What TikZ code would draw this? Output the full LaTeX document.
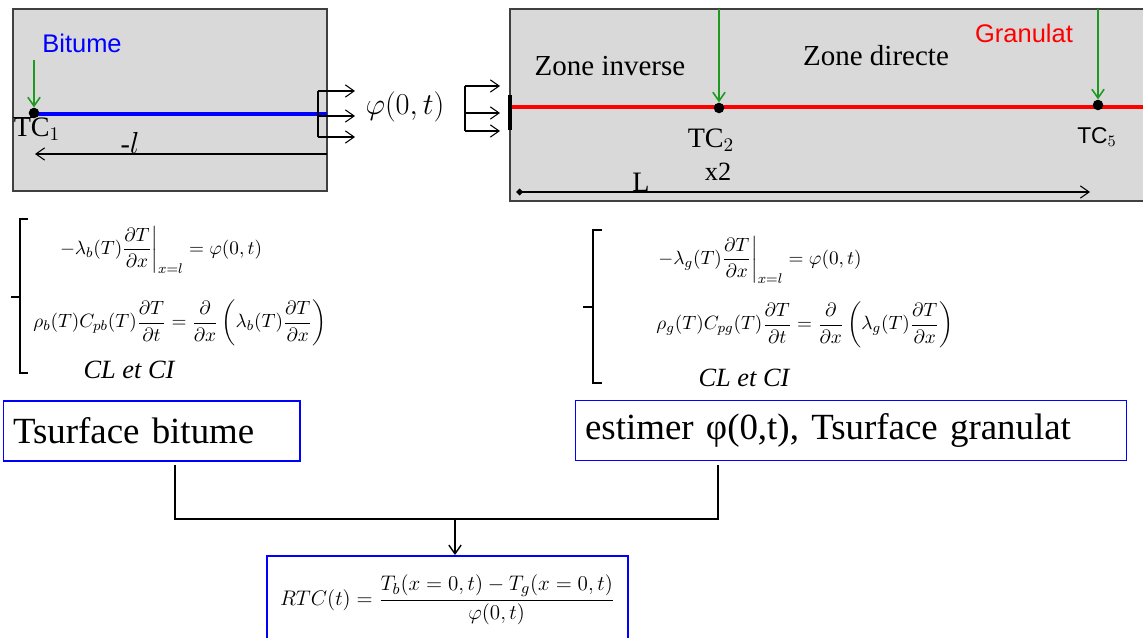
\documentclass[tikz,border=0pt]{standalone}
\usepackage{amsmath}
\usepackage{fontspec}
\setmainfont{Liberation Serif}
\newfontfamily\arial{Liberation Sans}
\usetikzlibrary{positioning,arrows.meta}
\definecolor{fondgris}{HTML}{D9D9D9}
\definecolor{bordgris}{HTML}{404040}
\definecolor{vertsonde}{HTML}{1E9B1E}
\newcommand{\taille}[1]{\fontsize{#1}{#1}\selectfont}
\tikzset{
  fleche/.style={-{Straight Barb[length=5pt,width=7pt]}, line width=0.6pt},
  sonde/.style={vertsonde, line width=0.9pt, -{Straight Barb[length=5pt,width=7pt]}},
  point/.style={circle, fill=black, inner sep=0pt, minimum size=6pt},
  boite/.style={draw=blue, line width=0.6pt, inner xsep=0.2cm, align=left, minimum height=1.2cm, font=\taille{21pt}},
}
\begin{document}
\begin{tikzpicture}[x=0.02cm,y=-0.02cm]
\useasboundingbox (0,0) rectangle (1143,638);
% echantillon bitume
\filldraw[fill=fondgris, draw=bordgris, line width=0.6pt] (13,9) rectangle (327,191);
\draw[blue, line width=1.8pt] (34,114) -- (327,114);
\draw[black, line width=0.5pt] (13,117) -- (34,117);
\node[point] (tc1) at (34,113) {};
\coordinate (s1) at (34,60);
\draw[sonde] (s1) -- (tc1.north);
\node[blue, font=\arial\taille{14.5pt}] (bitume) at (82,43) {Bitume};
\node[font=\taille{16pt}] (ltc1) at (37,129) {TC$_1$};
\coordinate (lfin) at (327,154);
\coordinate (ldeb) at (35,154);
\draw[fleche] (lfin) -- (ldeb);
\node[font=\taille{16pt}] (ll) at (130,143) {-$l$};
% flux
\draw[black, line width=0.6pt] (318,91) -- (318,137);
\draw[fleche] (318,91) -- (355,91);
\draw[fleche] (318,116) -- (355,116);
\draw[fleche] (318,137) -- (355,137);
\node[font=\taille{17pt}] (phi) at (405,107) {$\varphi(0,t)$};
\draw[black, line width=0.6pt] (465,86) -- (465,131);
\draw[fleche] (465,86) -- (500,86);
\draw[fleche] (465,113) -- (500,113);
\draw[fleche] (465,131) -- (500,131);
% echantillon granulat
\filldraw[fill=fondgris, draw=bordgris, line width=0.6pt] (510,9) rectangle (1150,201);
\draw[red, line width=1.8pt] (510,107) -- (1143,107);
\draw[black, line width=2pt] (510,95) -- (510,130);
\node[point] (tc2) at (719,108) {};
\node[point] (tc5) at (1098,105) {};
\coordinate (s2) at (719,9);
\coordinate (s5) at (1098,9);
\draw[sonde] (s2) -- (tc2.north);
\draw[sonde] (s5) -- (tc5.north);
\node[font=\taille{16.5pt}] (zinv) at (610,66) {Zone inverse};
\node[font=\taille{16.5pt}] (zdir) at (876,56) {Zone directe};
\node[red, font=\arial\taille{14.5pt}] (granulat) at (1024,33) {Granulat};
\node[font=\taille{16pt}] (ltc2) at (711,140) {TC$_2$};
\node[font=\arial\taille{13pt}] (ltc5) at (1097,137) {TC$_5$};
\node[font=\taille{15pt}] (lx2) at (718,172) {x2};
\node[font=\taille{16pt}] (lL) at (641,182) {L};
\coordinate (Ldeb) at (516,192);
\coordinate (Lfin) at (1090,192);
\draw[{Diamond[length=4pt,width=4pt]}-{Straight Barb[length=5pt,width=7pt]}, line width=0.6pt] (Ldeb) -- (Lfin);
% systeme bitume
\draw[black, line width=1.2pt] (28,219) -- (20,219) -- (20,373) -- (28,373);
\draw[black, line width=1.2pt] (20,297) -- (11,297);
\node[font=\taille{11pt}] (eqb1) at (161,250) {$\displaystyle -\lambda_b(T)\frac{\partial T}{\partial x}\bigg|_{x=l}=\varphi(0,t)$};
\node[font=\taille{11pt}] (eqb2) at (180,323) {$\displaystyle \rho_b(T)C_{pb}(T)\frac{\partial T}{\partial t}=\frac{\partial}{\partial x}\left(\lambda_b(T)\frac{\partial T}{\partial x}\right)$};
\node[font=\itshape\taille{15pt}] (clb) at (129,370) {CL et CI};
% systeme granulat
\draw[black, line width=1.2pt] (602,230) -- (593,230) -- (593,383) -- (602,383);
\draw[black, line width=1.2pt] (593,307) -- (583,307);
\node[font=\taille{11pt}] (eqg1) at (760,260) {$\displaystyle -\lambda_g(T)\frac{\partial T}{\partial x}\bigg|_{x=l}=\varphi(0,t)$};
\node[font=\taille{11pt}] (eqg2) at (805,325) {$\displaystyle \rho_g(T)C_{pg}(T)\frac{\partial T}{\partial t}=\frac{\partial}{\partial x}\left(\lambda_g(T)\frac{\partial T}{\partial x}\right)$};
\node[font=\itshape\taille{15pt}] (clg) at (744,378) {CL et CI};
% boites
\node[boite, text width=5.54cm] (tsb) at (151.5,431) {Tsurface bitume};
\node[boite, text width=10.64cm] (est) at (851,430.5) {estimer φ(0,t), Tsurface granulat};
\node[draw=blue, line width=1.1pt, minimum width=7.22cm, minimum height=1.76cm, font=\taille{13pt}] (rtc) at (447.5,600) {$\displaystyle RTC(t)=\frac{T_b(x=0,t)-T_g(x=0,t)}{\varphi(0,t)}$};
\coordinate (ja) at (175,465);
\coordinate (jb) at (718,465);
\coordinate (jc) at (455,519);
\draw[black, line width=1pt] (ja) |- (jc) -| (jb);
\draw[fleche, line width=0.8pt] (jc) -- (jc |- rtc.north);
\end{tikzpicture}
\end{document}
